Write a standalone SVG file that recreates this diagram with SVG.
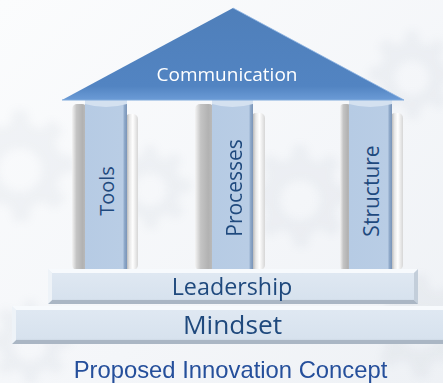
<svg xmlns="http://www.w3.org/2000/svg" width="443" height="383" viewBox="0 0 443 383">
  <defs>
    <linearGradient id="bg" x1="0" y1="0" x2="1" y2="1">
      <stop offset="0" stop-color="#fbfcfd"/>
      <stop offset="0.6" stop-color="#f4f6f9"/>
      <stop offset="1" stop-color="#eef1f5"/>
    </linearGradient>
    <linearGradient id="roof" x1="0" y1="0" x2="0" y2="1">
      <stop offset="0" stop-color="#4f7fba"/>
      <stop offset="0.85" stop-color="#5284c2"/>
      <stop offset="1" stop-color="#6b9bd6"/>
    </linearGradient>
    <linearGradient id="band" x1="0" y1="0" x2="1" y2="0">
      <stop offset="0" stop-color="#b6cbe4"/>
      <stop offset="0.9" stop-color="#b9cde5"/>
      <stop offset="0.94" stop-color="#8fa9c9"/>
      <stop offset="1" stop-color="#7994b8"/>
    </linearGradient>
    <linearGradient id="shadeL" x1="0" y1="0" x2="1" y2="0">
      <stop offset="0" stop-color="#f4f4f4"/>
      <stop offset="0.3" stop-color="#c4c4c4"/>
      <stop offset="0.7" stop-color="#b2b2b2"/>
      <stop offset="1" stop-color="#bdbdbd"/>
    </linearGradient>
    <linearGradient id="shadeR" x1="0" y1="0" x2="1" y2="0">
      <stop offset="0" stop-color="#9c9c9c"/>
      <stop offset="0.35" stop-color="#e8e8e8"/>
      <stop offset="0.6" stop-color="#ffffff"/>
      <stop offset="1" stop-color="#d6d6d6"/>
    </linearGradient>
    <linearGradient id="slab" x1="0" y1="0" x2="0" y2="1">
      <stop offset="0" stop-color="#f2f6fb"/>
      <stop offset="0.12" stop-color="#dfe8f2"/>
      <stop offset="0.85" stop-color="#d7e2ee"/>
      <stop offset="1" stop-color="#bcc7d3"/>
    </linearGradient>
    <filter id="soft" x="-30%" y="-30%" width="160%" height="160%">
      <feGaussianBlur stdDeviation="4"/>
    </filter>
    <!-- gear outline reused for the faint background texture -->
    <path id="gear" d="M-6,-50 L6,-50 L8,-38 L18,-34 L27,-42 L36,-33 L29,-23 L34,-13 L46,-11 L46,1 L34,4 L31,14 L38,24 L29,33 L19,26 L9,31 L7,43 L-5,43 L-8,31 L-18,27 L-28,34 L-37,25 L-30,15 L-34,5 L-46,2 L-46,-10 L-34,-13 L-29,-23 L-36,-33 L-27,-42 L-18,-35 L-8,-38 Z M0,-18 A18,18 0 1,0 0.1,-18 Z"/>
  </defs>
  <style>
    .lbl { font-family: "Open Sans", "Noto Sans", "DejaVu Sans", sans-serif; fill: #1f497d; text-anchor: middle; }
    .caption { font-family: "Liberation Sans", Arial, sans-serif; font-size: 23.8px; fill: #254f9b; text-anchor: middle; }
  </style>

  <!-- background with soft gear texture -->
  <rect width="443" height="383" fill="url(#bg)"/>
  <g fill="#9aa6b6" opacity="0.09" filter="url(#soft)" fill-rule="evenodd">
    <use href="#gear" transform="translate(412,78) scale(0.95)"/>
    <use href="#gear" transform="translate(300,200) scale(1.1)"/>
    <use href="#gear" transform="translate(20,170) scale(1.2)"/>
    <use href="#gear" transform="translate(150,190) scale(0.9)"/>
    <use href="#gear" transform="translate(420,330) scale(1.1)"/>
    <use href="#gear" transform="translate(30,345) scale(0.9)"/>
  </g>

  <!-- pillars -->
  <g id="tools">
    <rect x="72" y="104" width="15" height="166" rx="5" fill="url(#shadeL)"/>
    <rect x="125" y="114" width="13" height="156" rx="5" fill="url(#shadeR)"/>
    <rect x="85" y="100" width="42" height="170" fill="url(#band)"/>
    <path d="M85,100 L127,100 L127,104 Q106,110 85,104 Z" fill="#d4e1f0"/>
    <text class="lbl" font-size="20" transform="translate(114,191) rotate(-90)">Tools</text>
  </g>
  <g id="processes">
    <rect x="195" y="104" width="19" height="166" rx="5" fill="url(#shadeL)"/>
    <rect x="251" y="113" width="14" height="157" rx="5" fill="url(#shadeR)"/>
    <rect x="212" y="100" width="41" height="170" fill="url(#band)"/>
    <path d="M212,100 L253,100 L253,104 Q232,110 212,104 Z" fill="#d4e1f0"/>
    <text class="lbl" font-size="21" transform="translate(242,188) rotate(-90)">Processes</text>
  </g>
  <g id="structure">
    <rect x="340" y="104" width="11" height="166" rx="4" fill="url(#shadeL)"/>
    <rect x="390" y="113" width="13" height="157" rx="5" fill="url(#shadeR)"/>
    <rect x="349" y="100" width="43" height="170" fill="url(#band)"/>
    <path d="M349,100 L392,100 L392,104 Q370,110 349,104 Z" fill="#d4e1f0"/>
    <text class="lbl" font-size="21" transform="translate(379,191) rotate(-90)">Structure</text>
  </g>

  <!-- roof -->
  <g id="communication">
    <path d="M233,8 L404,100 L62,100 Z" fill="url(#roof)"/>
    <path d="M233,8 L404,100" stroke="#8cb2e2" stroke-width="0.8" fill="none"/>
    <path d="M62,100 L404,100" stroke="#7fa9dc" stroke-width="1.2" fill="none"/>
    <text class="lbl" x="227" y="81" font-size="19" style="fill:#ffffff">Communication</text>
  </g>

  <!-- base slabs -->
  <g id="leadership">
    <rect x="48" y="269" width="370" height="35" fill="url(#slab)"/>
    <path d="M48,269 L418,269 L414,273 L52,273 Z" fill="#f7fafd"/>
    <path d="M48,304 L418,304 L414,300 L52,300 Z" fill="#aab6c4"/>
    <path d="M48,269 L52,273 L52,300 L48,304 Z" fill="#eef3f8"/>
    <path d="M418,269 L414,273 L414,300 L418,304 Z" fill="#c3ceda"/>
    <text class="lbl" x="232" y="295" font-size="23.3">Leadership</text>
  </g>
  <g id="mindset">
    <rect x="12" y="306" width="431" height="38" fill="url(#slab)"/>
    <path d="M12,306 L443,306 L443,310 L16,310 Z" fill="#f7fafd"/>
    <path d="M12,344 L443,344 L443,340 L16,340 Z" fill="#aab6c4"/>
    <path d="M12,306 L16,310 L16,340 L12,344 Z" fill="#eef3f8"/>
    <text class="lbl" x="232.5" y="334" font-size="26.3">Mindset</text>
  </g>

  <text class="caption" x="230.5" y="378">Proposed Innovation Concept</text>
</svg>
